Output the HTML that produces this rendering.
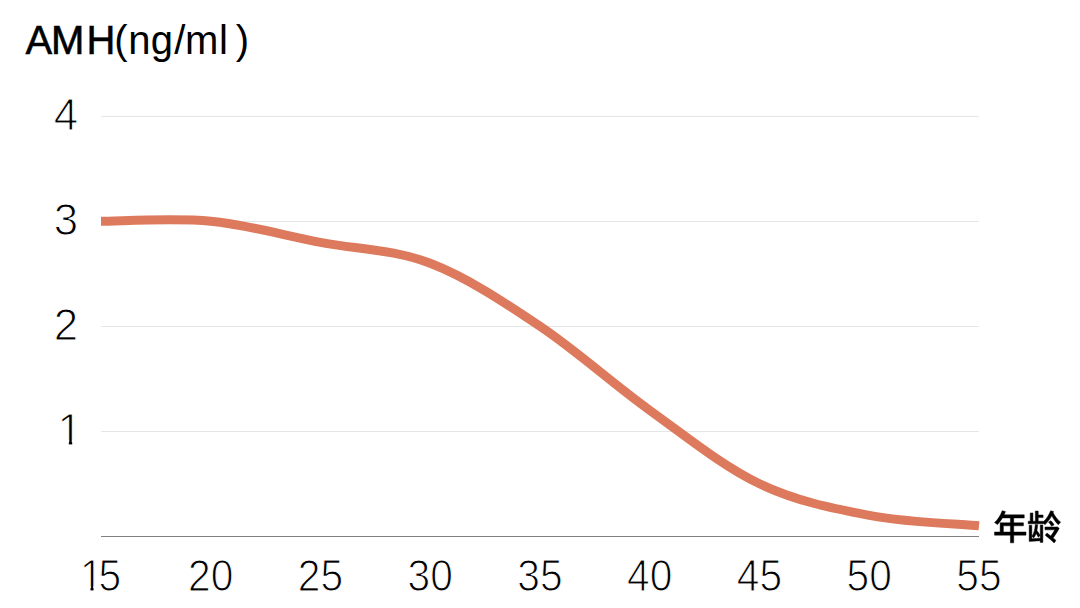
<!DOCTYPE html>
<html><head><meta charset="utf-8"><style>
html,body{margin:0;padding:0;background:#fff;width:1080px;height:608px;overflow:hidden}
svg{display:block}
text{font-family:"Liberation Sans",sans-serif}
</style></head><body>
<svg width="1080" height="608" viewBox="0 0 1080 608">
<rect width="1080" height="608" fill="#fff"/>
<g fill="none" stroke="#e6e6e6" stroke-width="1">
<line x1="101" y1="116.5" x2="979" y2="116.5"/>
<line x1="101" y1="221.5" x2="979" y2="221.5"/>
<line x1="101" y1="326.5" x2="979" y2="326.5"/>
<line x1="101" y1="431.5" x2="979" y2="431.5"/>
</g>
<line x1="101" y1="536.5" x2="979" y2="536.5" stroke="#808080" stroke-width="1"/>
<path transform="translate(0,0.3)" d="M101.00,221.00 C119.29,221.00 174.17,217.50 210.75,221.00 C247.33,224.50 283.92,235.00 320.50,242.00 C357.08,249.00 393.67,249.00 430.25,263.00 C466.83,277.00 503.42,301.50 540.00,326.00 C576.58,350.50 613.17,383.75 649.75,410.00 C686.33,436.25 722.92,466.00 759.50,483.50 C796.08,501.00 832.67,508.00 869.25,515.00 C905.83,522.00 960.71,523.75 979.00,525.50" fill="none" stroke="#dd7a5e" stroke-width="9" stroke-linecap="butt" stroke-linejoin="round"/>
<g font-size="43.8" fill="#000" stroke="#fff" stroke-width="1.1" text-anchor="middle" transform=""><text x="66" y="129.5">4</text><text x="66" y="234.5">3</text><text x="66" y="339.5">2</text></g>
<g font-size="43.8" fill="#000" stroke="#fff" stroke-width="1.1" text-anchor="middle"><text transform="translate(109.75,590.5) scale(0.93,1)">5</text><text transform="translate(210.75,590.5) scale(0.93,1)">20</text><text transform="translate(320.5,590.5) scale(0.93,1)">25</text><text transform="translate(430.25,590.5) scale(0.93,1)">30</text><text transform="translate(540,590.5) scale(0.93,1)">35</text><text transform="translate(649.75,590.5) scale(0.93,1)">40</text><text transform="translate(759.5,590.5) scale(0.93,1)">45</text><text transform="translate(869.25,590.5) scale(0.93,1)">50</text><text transform="translate(979,590.5) scale(0.93,1)">55</text><text x="57.55" y="444.5" text-anchor="start">1</text><text transform="translate(79.96,590.5) scale(0.93,1)" text-anchor="start">1</text></g>
<text x="25.5" y="54" font-size="40" fill="#000"><tspan stroke="#000" stroke-width="0.5">A</tspan><tspan dx="-1.1" stroke="#000" stroke-width="0.6">M</tspan><tspan dx="2.2" stroke="#000" stroke-width="0.5">H</tspan><tspan dx="-1.3">(</tspan><tspan dx="0.65">n</tspan><tspan dx="0.25">g</tspan><tspan dx="1.4">/</tspan><tspan dx="-0.35">m</tspan><tspan dx="0.65">l</tspan><tspan dx="-3.25"> )</tspan></text>
<g fill="#fff"><rect x="59.89" y="440.03" width="8.93" height="5.67"/><rect x="72.19" y="440.03" width="8.59" height="5.67"/><rect x="82.13" y="586.03" width="8.30" height="5.67"/><rect x="93.57" y="586.03" width="7.98" height="5.67"/></g>
<g fill="#000" stroke="#000" stroke-width="13" stroke-linejoin="miter">
<path transform="translate(993.0,509.6) scale(0.0345)" d="M44 649V741H504V964H601V741H957V649H601V471H883V383H601V243H906V152H321C336 121 349 89 361 57L265 32C218 165 138 294 45 375C68 388 108 419 126 436C178 385 228 318 273 243H504V383H207V649ZM301 649V471H504V649Z"/>
<path transform="translate(1026.85,509.6) scale(0.0345)" d="M628 358C660 396 699 449 717 482L791 441C772 408 734 360 699 323ZM244 430C233 570 209 692 145 770C160 782 188 808 198 822C228 785 251 741 268 691C293 729 316 769 330 799L384 750C366 712 328 654 292 606C303 554 311 497 316 437ZM689 32C649 141 574 262 484 347V337H330V232H471V156H330V41H246V337H176V96H98V337H39V411H484V397C499 411 514 427 523 438C602 369 669 278 721 179C774 279 845 379 912 438C928 415 960 381 982 364C902 305 813 193 763 89L775 57ZM68 450V923L389 903V952H464V445H389V831L144 843V450ZM525 503V587H811C777 647 731 714 692 764L584 679L532 741C618 810 735 907 790 968L844 895C823 874 794 848 761 821C821 743 895 632 939 538L874 497L858 503Z"/>
</g>
</svg>
</body></html>
